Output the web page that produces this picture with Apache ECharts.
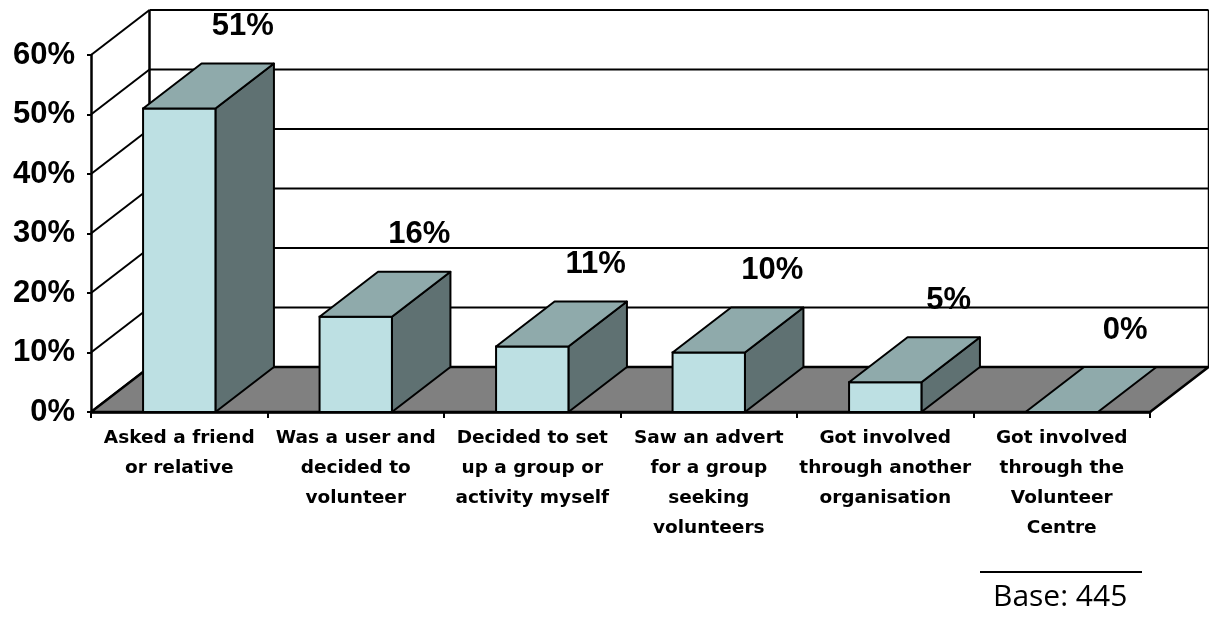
<!DOCTYPE html>
<html>
<head>
<meta charset="utf-8">
<title>How volunteers got involved</title>
<script src="https://cdn.jsdelivr.net/npm/echarts@6/dist/echarts.min.js"></script>
<style>
  html, body { margin: 0; padding: 0; background: #ffffff; }
  #chart { width: 1209px; height: 618px; }
</style>
</head>
<body>
<div id="chart"></div>
<script>
// Categories (how respondents got involved) and share of respondents, in %
var categories = [
  'Asked a friend\nor relative',
  'Was a user and\ndecided to\nvolunteer',
  'Decided to set\nup a group or\nactivity myself',
  'Saw an advert\nfor a group\nseeking\nvolunteers',
  'Got involved\nthrough another\norganisation',
  'Got involved\nthrough the\nVolunteer\nCentre'
];
var shares = [51, 16, 11, 10, 5, 0];
var yTicks = [0, 10, 20, 30, 40, 50, 60];
var baseNote = 'Base: 445';

// Oblique projection used for the depth of the 3D look (pixels)
var DEPTH_X = 58.5;
var DEPTH_Y = -45;
var BAR_RATIO = 0.41;

var FRONT = '#bde0e3';
var TOP = '#8faaab';
var SIDE = '#5f7172';
var FLOOR = '#808080';
var EDGE = '#000000';

var chart = echarts.init(document.getElementById('chart'), null, { renderer: 'canvas' });

// Back wall grid lines plus the matching lines on the left wall
function renderWallLine(params, api) {
  var rect = params.coordSys;
  var v = api.value(0);
  var front = api.coord([0, v]);
  var y = front[1];
  var xl = rect.x;
  var xr = rect.x + rect.width;
  var children = [
    { type: 'line', shape: { x1: xl, y1: y, x2: xl + DEPTH_X, y2: y + DEPTH_Y },
      style: { stroke: EDGE, lineWidth: 2 } },
    { type: 'line', shape: { x1: xl + DEPTH_X, y1: y + DEPTH_Y, x2: xr + DEPTH_X, y2: y + DEPTH_Y },
      style: { stroke: EDGE, lineWidth: 2 } }
  ];
  if (params.dataIndex === 0) {
    var top = rect.y;
    var bottom = rect.y + rect.height;
    // wall edges
    children.push({ type: 'line', shape: { x1: xl + DEPTH_X, y1: top + DEPTH_Y, x2: xl + DEPTH_X, y2: bottom + DEPTH_Y },
      style: { stroke: EDGE, lineWidth: 2.5 } });
    children.push({ type: 'line', shape: { x1: xr + DEPTH_X, y1: top + DEPTH_Y, x2: xr + DEPTH_X, y2: bottom + DEPTH_Y },
      style: { stroke: EDGE, lineWidth: 1.5 } });
    // floor
    children.push({ type: 'polygon', shape: { points: [
        [xl, bottom], [xr, bottom], [xr + DEPTH_X, bottom + DEPTH_Y], [xl + DEPTH_X, bottom + DEPTH_Y]
      ] }, style: { fill: FLOOR, stroke: EDGE, lineWidth: 2.5, lineJoin: 'round' } });
  }
  return { type: 'group', children: children };
}

// One 3D column per category: front, top and right side faces, plus value label
function renderColumn(params, api) {
  var idx = api.value(0);
  var val = api.value(1);
  var base = api.coord([idx, 0]);
  var tip = api.coord([idx, val]);
  var w = api.size([1, 0])[0] * BAR_RATIO;
  var L = base[0] - w / 2;
  var R = base[0] + w / 2;
  var yb = base[1];
  var yt = tip[1];
  var children = [];
  if (yb - yt > 0.5) {
    children.push({ type: 'polygon', shape: { points: [
        [R, yt], [R + DEPTH_X, yt + DEPTH_Y], [R + DEPTH_X, yb + DEPTH_Y], [R, yb]
      ] }, style: { fill: SIDE, stroke: EDGE, lineWidth: 2, lineJoin: 'round' } });
    children.push({ type: 'rect', shape: { x: L, y: yt, width: w, height: yb - yt },
      style: { fill: FRONT, stroke: EDGE, lineWidth: 2 } });
  }
  children.push({ type: 'polygon', shape: { points: [
      [L, yt], [R, yt], [R + DEPTH_X, yt + DEPTH_Y], [L + DEPTH_X, yt + DEPTH_Y]
    ] }, style: { fill: TOP, stroke: EDGE, lineWidth: 2, lineJoin: 'round' } });
  children.push({ type: 'text', x: base[0] + DEPTH_X + 5, y: yt + DEPTH_Y - 37,
    style: { text: val + '%', fill: '#000', font: 'bold 31px "Liberation Sans", Arial, sans-serif',
      align: 'center', verticalAlign: 'middle' } });
  return { type: 'group', children: children };
}

var option = {
  backgroundColor: '#ffffff',
  animation: false,
  grid: { left: 91, right: 59, top: 55, bottom: 206, containLabel: false },
  xAxis: {
    type: 'category',
    data: categories,
    boundaryGap: true,
    z: 10,
    axisLine: { show: true, lineStyle: { color: '#000', width: 2.5 } },
    axisTick: { show: true, length: 6, lineStyle: { color: '#000', width: 2 } },
    axisLabel: {
      interval: 0,
      margin: 11,
      color: '#000',
      fontFamily: '"DejaVu Sans", Verdana, sans-serif',
      fontWeight: 'bold',
      fontSize: 18.5,
      lineHeight: 30,
      align: 'center'
    },
    splitLine: { show: false }
  },
  yAxis: {
    type: 'value',
    min: 0,
    max: 60,
    interval: 10,
    z: 10,
    axisLine: { show: true, lineStyle: { color: '#000', width: 2.5 } },
    axisTick: { show: true, length: 4, lineStyle: { color: '#000', width: 2 } },
    axisLabel: {
      margin: 16,
      color: '#000',
      fontFamily: '"Liberation Sans", Arial, sans-serif',
      fontWeight: 'bold',
      fontSize: 31,
      formatter: '{value}%'
    },
    splitLine: { show: false }
  },
  series: [
    {
      type: 'custom',
      name: 'walls',
      z: 1,
      silent: true,
      renderItem: renderWallLine,
      data: yTicks.map(function (t) { return [t]; }),
      encode: { y: 0 }
    },
    {
      type: 'custom',
      name: 'shares',
      z: 3,
      renderItem: renderColumn,
      data: shares.map(function (v, i) { return [i, v]; }),
      encode: { x: 0, y: 1 }
    }
  ],
  graphic: [
    { type: 'line', shape: { x1: 980, y1: 572, x2: 1142, y2: 572 },
      style: { stroke: '#000', lineWidth: 2 } },
    { type: 'text', left: 993, top: 582,
      style: { text: baseNote, fill: '#000', font: '30px "Open Sans", "Liberation Sans", sans-serif' } }
  ]
};

chart.setOption(option);
</script>
</body>
</html>
